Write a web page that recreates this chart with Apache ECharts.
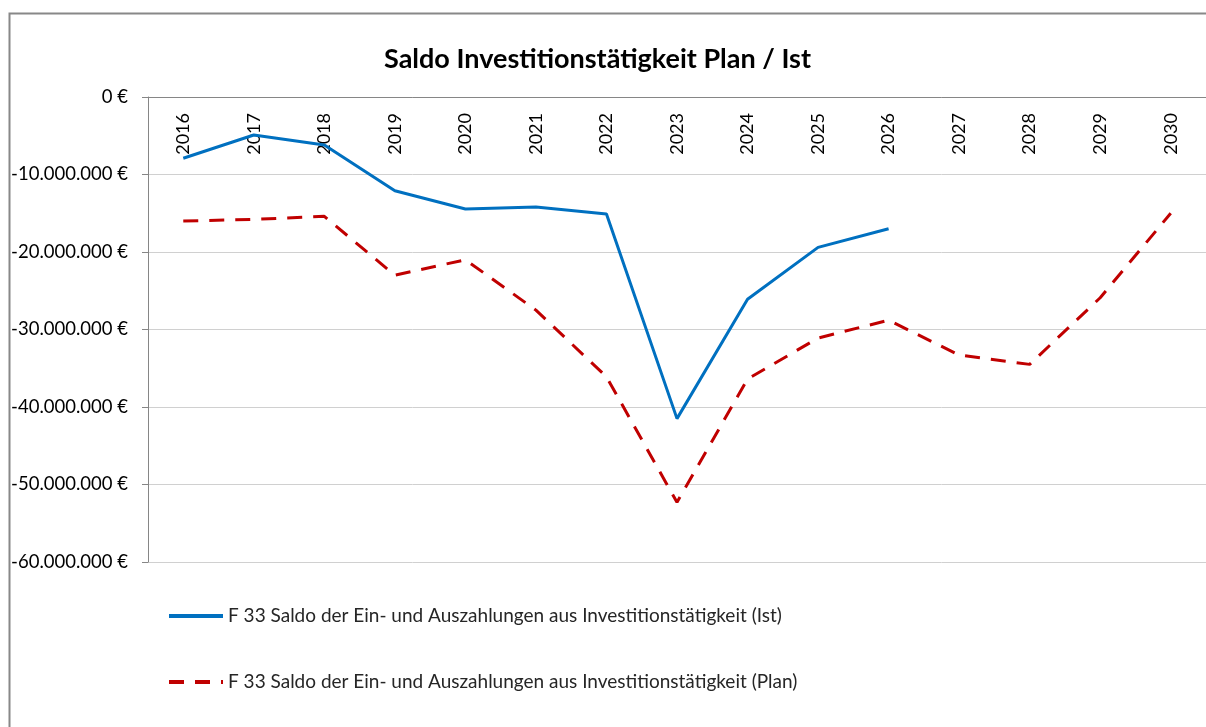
<!DOCTYPE html>
<html>
<head>
<meta charset="utf-8">
<script src="https://cdn.jsdelivr.net/npm/echarts@6/dist/echarts.min.js"></script>
<style>
    html, body { margin: 0; padding: 0; background: #fff; }
    #main { width: 1206px; height: 727px; }
</style>
</head>
<body>
<div id="main"></div>
<script>
// Daten
var years = ['2016', '2017', '2018', '2019', '2020', '2021', '2022', '2023',
             '2024', '2025', '2026', '2027', '2028', '2029', '2030'];

var istValues = [-7900000, -4900000, -6200000, -12100000, -14450000, -14200000, -15100000,
                 -41500000, -26100000, -19400000, -17000000];

var planValues = [-16000000, -15800000, -15400000, -23000000, -21000000, -27500000, -36100000,
                  -52300000, -36400000, -31100000, -28800000, -33300000, -34500000, -25900000, -15000000];

var istName = 'F 33 Saldo der Ein- und Auszahlungen aus Investitionstätigkeit (Ist)';
var planName = 'F 33 Saldo der Ein- und Auszahlungen aus Investitionstätigkeit (Plan)';

var fontFam = 'Lato, "Open Sans", sans-serif';

function euro(v) {
    var s = Math.abs(v).toString().replace(/\B(?=(\d{3})+(?!\d))/g, '.');
    return (v < 0 ? '-' : '') + s + ' €';
}

var chart = echarts.init(document.getElementById('main'));

var option = {
    backgroundColor: '#fff',
    animation: false,
    title: {
        text: 'Saldo Investitionstätigkeit Plan / Ist',
        left: 379,
        top: 41,
        textStyle: {
            fontFamily: fontFam,
            fontSize: 27,
            fontWeight: 'bold',
            color: '#000'
        }
    },
    legend: {
        orient: 'vertical',
        left: 162,
        top: 601,
        itemWidth: 54,
        itemHeight: 14,
        itemGap: 46,
        itemStyle: { opacity: 0 },
        lineStyle: { width: 4 },
        textStyle: {
            fontFamily: fontFam,
            fontSize: 19,
            lineHeight: 20,
            color: '#262626'
        },
        data: [istName, planName]
    },
    grid: {
        left: 148,
        right: 0,
        top: 97,
        bottom: 165
    },
    xAxis: {
        type: 'category',
        position: 'top',
        data: years,
        boundaryGap: true,
        axisLine: { lineStyle: { color: '#868686', width: 1 } },
        axisTick: { inside: true, length: 7, lineStyle: { color: '#868686' } },
        axisLabel: {
            inside: true,
            rotate: 90,
            margin: 16,
            fontFamily: fontFam,
            fontSize: 18,
            color: '#000'
        }
    },
    yAxis: {
        type: 'value',
        min: -60000000,
        max: 0,
        interval: 10000000,
        axisLine: { show: true, lineStyle: { color: '#868686' } },
        axisTick: { show: true, length: 6, lineStyle: { color: '#868686' } },
        axisLabel: {
            formatter: euro,
            margin: 20,
            fontFamily: fontFam,
            fontSize: 18.5,
            color: '#000'
        },
        splitLine: { lineStyle: { color: '#d0d0d0', width: 1 } }
    },
    graphic: [{
        type: 'rect',
        shape: { x: 9.5, y: 13.5, width: 1300, height: 800 },
        style: { fill: null, stroke: '#888', lineWidth: 2 },
        silent: true,
        z: 0
    }],
    series: [
        {
            name: istName,
            type: 'line',
            data: istValues,
            symbol: 'none',
            color: '#0070C0',
            lineStyle: { width: 3, color: '#0070C0' }
        },
        {
            name: planName,
            type: 'line',
            data: planValues,
            symbol: 'none',
            color: '#C00000',
            lineStyle: { width: 3, color: '#C00000', type: [15, 11] }
        }
    ]
};

chart.setOption(option);
</script>
</body>
</html>
